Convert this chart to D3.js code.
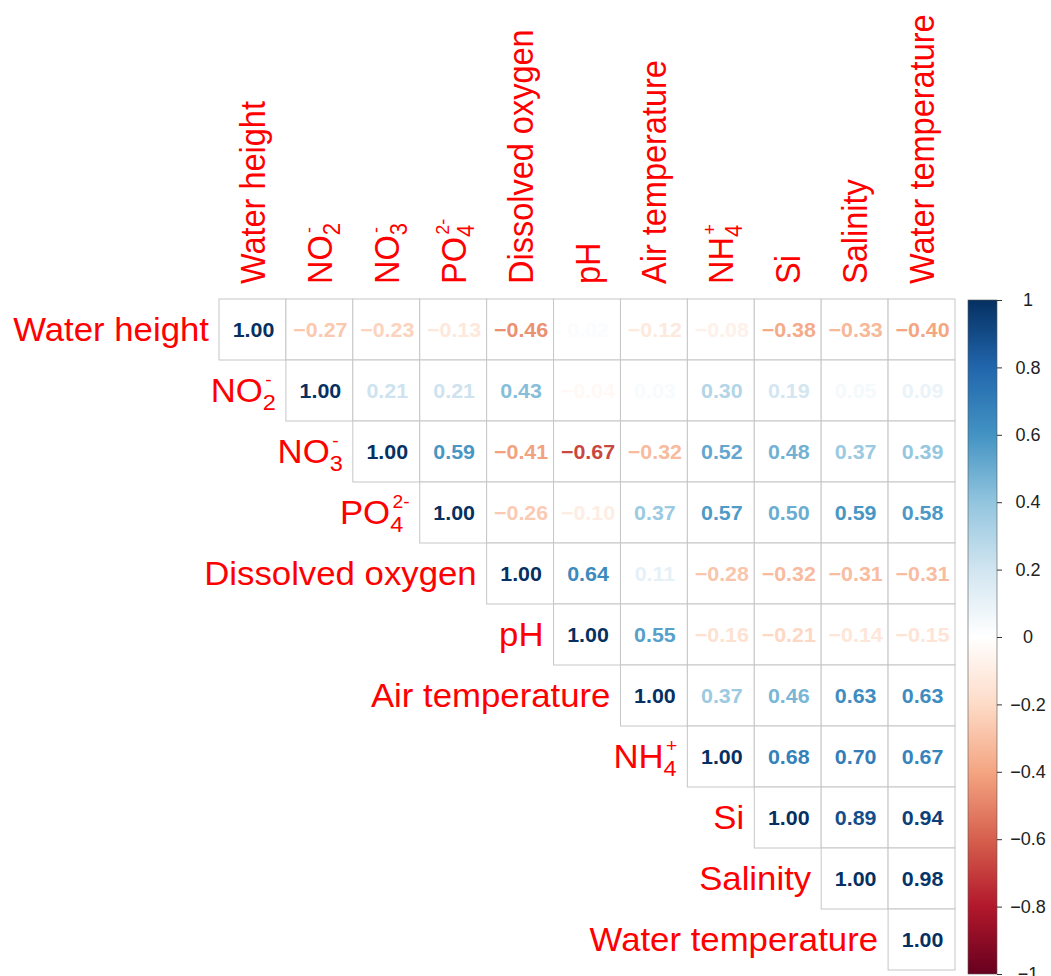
<!DOCTYPE html>
<html>
<head>
<meta charset="utf-8">
<script src="https://cdn.jsdelivr.net/npm/d3@7"></script>
<style>
  body { margin: 0; background: #fff; }
  svg { display: block; font-family: "Liberation Sans", Arial, Helvetica, sans-serif; }
</style>
</head>
<body>
<svg id="chart" width="1051" height="976"></svg>
<script>
// variables, in matrix order
const vars = ["Water height", "NO2-", "NO3-", "PO42-", "Dissolved oxygen", "pH",
    "Air temperature", "NH4+", "Si", "Salinity", "Water temperature"];

// chemical labels: base, subscript, superscript
const chem = {
    "NO2-": ["NO", "2", "-"],
    "NO3-": ["NO", "3", "-"],
    "PO42-": ["PO", "4", "2-"],
    "NH4+": ["NH", "4", "+"]
};

// upper triangle, each row starts at the diagonal
const corrRows = [
    [1.00, -0.27, -0.23, -0.13, -0.46, 0.02, -0.12, -0.08, -0.38, -0.33, -0.40],
    [1.00, 0.21, 0.21, 0.43, -0.04, 0.03, 0.30, 0.19, 0.05, 0.09],
    [1.00, 0.59, -0.41, -0.67, -0.32, 0.52, 0.48, 0.37, 0.39],
    [1.00, -0.26, -0.10, 0.37, 0.57, 0.50, 0.59, 0.58],
    [1.00, 0.64, 0.11, -0.28, -0.32, -0.31, -0.31],
    [1.00, 0.55, -0.16, -0.21, -0.14, -0.15],
    [1.00, 0.37, 0.46, 0.63, 0.63],
    [1.00, 0.68, 0.70, 0.67],
    [1.00, 0.89, 0.94],
    [1.00, 0.98],
    [1.00]
];

const legendTicks = [1, 0.8, 0.6, 0.4, 0.2, 0, -0.2, -0.4, -0.6, -0.8, -1];
const palette = ["#67001F", "#B2182B", "#D6604D", "#F4A582", "#FDDBC7", "#FFFFFF",
    "#D1E5F0", "#92C5DE", "#4393C3", "#2166AC", "#053061"];

const SX = 1.07;          // the picture is a little wider than tall
const labelSize = 32.5;
const subSize = 22;
const supSize = 18;

const svg = d3.select("#chart");
const x = d3.scaleBand().domain(vars).range([219, 955]);
const y = d3.scaleBand().domain(vars).range([299, 970]);
const color = d3.scaleLinear()
    .domain(palette.map((c, i) => -1 + i * 0.2))
    .range(palette);

const cells = [];
corrRows.forEach((r, i) => r.forEach((v, k) => cells.push({ row: vars[i], col: vars[i + k], v: v })));

// cell grid
svg.append("g").selectAll("rect")
    .data(cells)
    .join("rect")
    .attr("x", d => x(d.col))
    .attr("y", d => y(d.row))
    .attr("width", x.bandwidth())
    .attr("height", y.bandwidth())
    .attr("fill", "#fff")
    .attr("stroke", "#c6c6c6")
    .attr("stroke-width", 1);

// numbers
const fmt = d3.format(".2f");
svg.append("g").selectAll("text")
    .data(cells)
    .join("text")
    .attr("transform", d => `translate(${x(d.col) + x.bandwidth() / 2 + 1},${y(d.row) + y.bandwidth() / 2}) scale(${SX},1)`)
    .attr("text-anchor", "middle")
    .attr("dy", "0.36em")
    .attr("font-size", 20)
    .attr("font-weight", "bold")
    .attr("fill", d => color(d.v))
    .text(d => fmt(d.v).replace("-", "\u2212"));

function writeLabel(t, name) {
    const p = chem[name];
    if (!p) { t.text(name); return; }
    t.append("tspan").text(p[0]);
    t.append("tspan").attr("font-size", subSize).attr("dy", 8).text(p[1]);
    t.append("tspan").attr("font-size", supSize)
        .attr("dx", -subSize * 0.45).attr("dy", -24).text(p[2]);
}

// row labels
svg.append("g").selectAll("text")
    .data(vars)
    .join("text")
    .attr("transform", d => `translate(${x(d) - 10},${y(d) + y.bandwidth() / 2}) scale(${SX},1)`)
    .attr("text-anchor", "end")
    .attr("dy", "0.36em")
    .attr("font-size", labelSize)
    .attr("fill", "#ff0000")
    .each(function (d) { writeLabel(d3.select(this), d); });

// column labels
svg.append("g").selectAll("text")
    .data(vars)
    .join("text")
    .attr("transform", d => `translate(${x(d) + x.bandwidth() / 2},284) scale(${SX},1) rotate(-90)`)
    .attr("text-anchor", "start")
    .attr("dy", "0.36em")
    .attr("font-size", labelSize)
    .attr("fill", "#ff0000")
    .each(function (d) { writeLabel(d3.select(this), d); });

// colour bar
const ly = d3.scaleLinear().domain([-1, 1]).range([974, 300]);
const grad = svg.append("defs").append("linearGradient")
    .attr("id", "cbar")
    .attr("x1", 0).attr("y1", 1).attr("x2", 0).attr("y2", 0);
grad.selectAll("stop")
    .data(palette)
    .join("stop")
    .attr("offset", (d, i) => i / (palette.length - 1))
    .attr("stop-color", d => d);

svg.append("rect")
    .attr("x", 968)
    .attr("y", ly(1))
    .attr("width", 29)
    .attr("height", ly(-1) - ly(1))
    .attr("fill", "url(#cbar)")
    .attr("stroke", "#555")
    .attr("stroke-width", 0.6);

const axis = svg.append("g")
    .attr("transform", "translate(997,0)")
    .call(d3.axisRight(ly)
        .tickValues(legendTicks)
        .tickSize(5)
        .tickFormat(d => d === 0 ? "0" : (Number.isInteger(d) ? String(d) : d3.format(".1f")(d)).replace("-", "\u2212")));
axis.select(".domain").remove();
axis.selectAll(".tick line").attr("stroke", "#333");
axis.selectAll(".tick text")
    .attr("x", 31)
    .attr("text-anchor", "middle")
    .attr("font-size", 18)
    .attr("font-family", "Liberation Sans, Arial, sans-serif")
    .attr("fill", "#222");
</script>
</body>
</html>
